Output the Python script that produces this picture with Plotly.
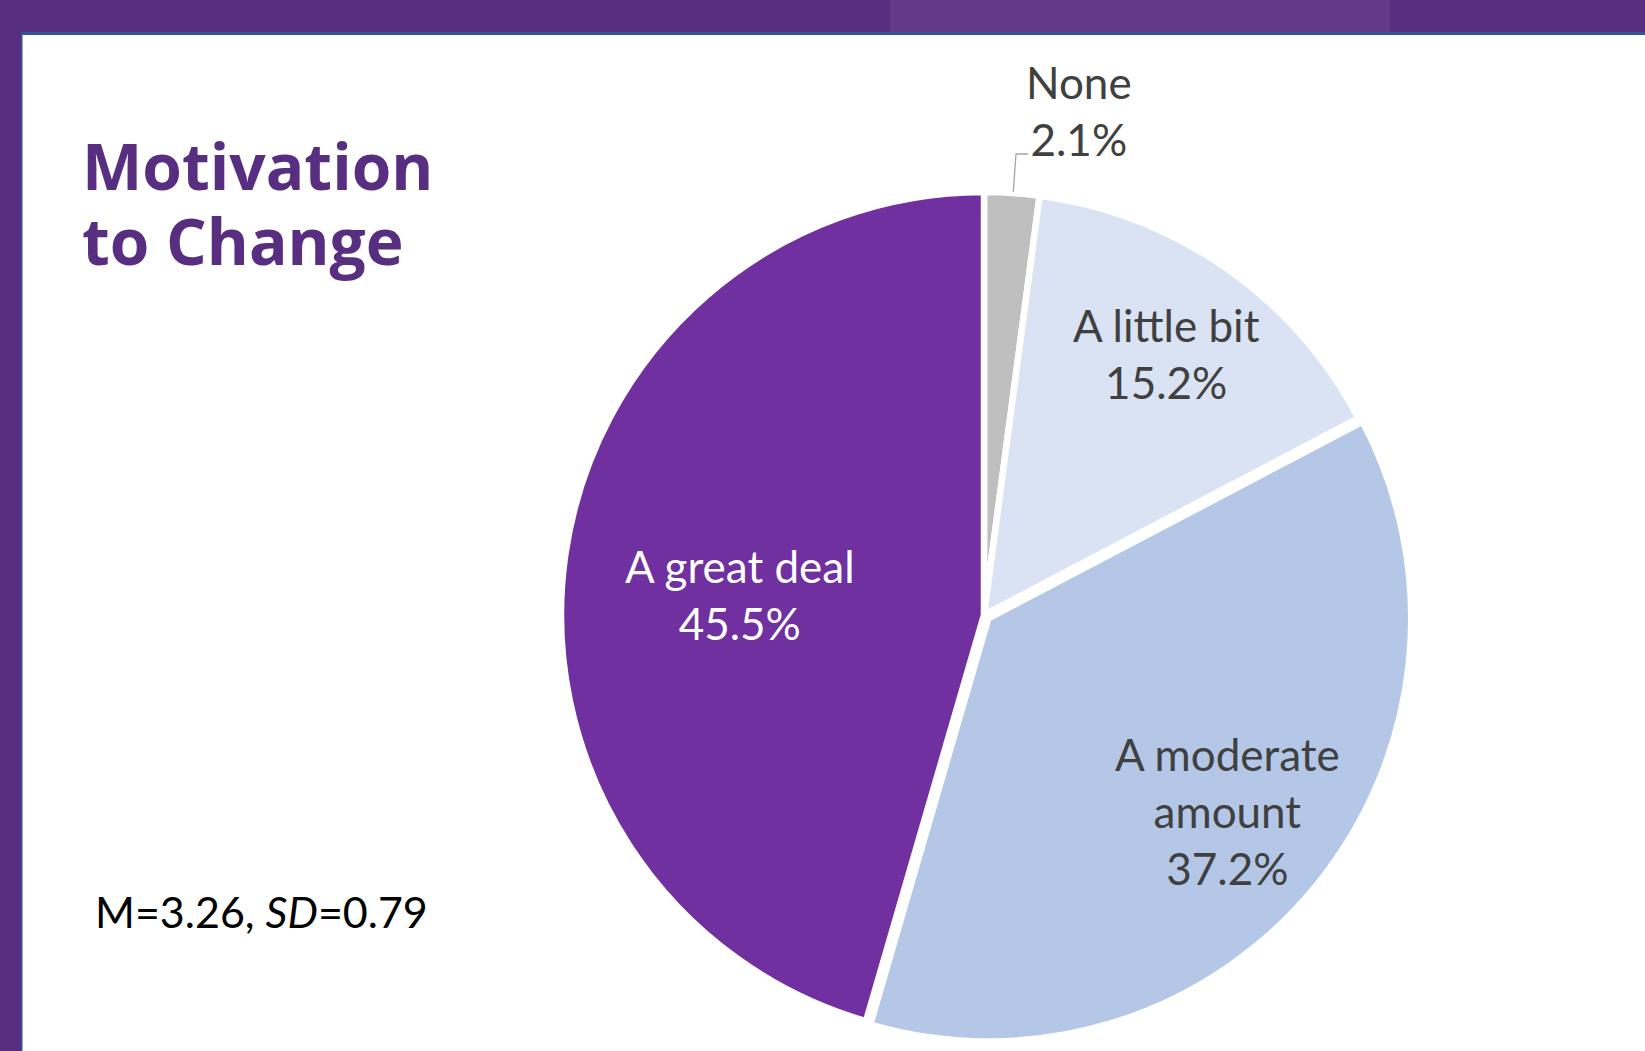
import plotly.graph_objects as go
import math

W, H = 1645, 1051

categories = ["None", "A little bit", "A moderate amount", "A great deal"]
display_labels = ["None", "A little bit", "A moderate<br>amount", "A great deal"]
values = [2.1, 15.2, 37.2, 45.5]
colors = ["#BFBFBF", "#DAE3F3", "#B4C7E7", "#7030A0"]
label_colors = ["#404040", "#404040", "#404040", "#FFFFFF"]

title_lines = ["Motivation", "to Change"]
stats_text = "M=3.26, <i>SD</i>=0.79"

# pie geometry (pixels)
cx, cy, R = 984.0, 615.0, 423.0
pulls = [0, 0, 0.013, 0]
maxpull = max(pulls)
half = R * (1 + maxpull)
# label centres in pixels (None sits outside with a leader line)
label_pos = [(1079, 110), (1166, 353), (1227, 811), (740, 594)]

def px(x):
    return x / W

def py(y):
    return 1 - y / H

fig = go.Figure()
fig.add_trace(go.Pie(
    labels=categories,
    values=values,
    sort=False,
    direction="clockwise",
    rotation=0,
    pull=pulls,
    marker=dict(colors=colors, line=dict(color="white", width=6.5)),
    textinfo="none",
    hoverinfo="label+percent",
    showlegend=False,
    domain=dict(x=[px(cx - half), px(cx + half)], y=[py(cy + half), py(cy - half)]),
))

annotations = []
for i, v in enumerate(values):
    tx, ty = label_pos[i]
    annotations.append(dict(
        x=px(tx), y=py(ty), xref="paper", yref="paper",
        text=f"{display_labels[i]}<br>{v:.1f}%",
        showarrow=False, xanchor="center", yanchor="middle",
        font=dict(family="Lato", size=44, color=label_colors[i]),
    ))

# title
annotations.append(dict(x=px(80), y=py(166), xref="paper", yref="paper",
                        text=f"<b>{title_lines[0]}</b>", showarrow=False,
                        xanchor="left", yanchor="middle",
                        font=dict(family="Open Sans", size=64, color="#572E80")))
annotations.append(dict(x=px(80), y=py(241), xref="paper", yref="paper",
                        text=f"<b>{title_lines[1]}</b>", showarrow=False,
                        xanchor="left", yanchor="middle",
                        font=dict(family="Open Sans", size=64, color="#572E80")))
annotations.append(dict(x=px(93), y=py(911), xref="paper", yref="paper",
                        text=stats_text, showarrow=False,
                        xanchor="left", yanchor="middle",
                        font=dict(family="Lato", size=43, color="#000000")))

shapes = [
    # top band
    dict(type="rect", xref="paper", yref="paper", x0=0, x1=1, y0=py(32), y1=1,
         fillcolor="#572E80", line=dict(width=0), layer="above"),
    dict(type="rect", xref="paper", yref="paper", x0=px(890), x1=px(1390), y0=py(32), y1=1,
         fillcolor="#623A86", line=dict(width=0), layer="above"),
    # blue rule under top band
    dict(type="rect", xref="paper", yref="paper", x0=px(21), x1=1, y0=py(35), y1=py(32),
         fillcolor="#2F5597", line=dict(width=0), layer="above"),
    # left band
    dict(type="rect", xref="paper", yref="paper", x0=0, x1=px(21), y0=0, y1=py(32),
         fillcolor="#572E80", line=dict(width=0), layer="above"),
    dict(type="rect", xref="paper", yref="paper", x0=px(21), x1=px(22.5), y0=0, y1=py(32),
         fillcolor="#2F5597", line=dict(width=0), layer="above"),
    # leader line for "None"
    dict(type="path", xref="paper", yref="paper",
         path=f"M {px(1013.3)},{py(192)} L {px(1016)},{py(154)} L {px(1028)},{py(154)}",
         line=dict(color="#A6A6A6", width=1.3)),
]

fig.update_layout(
    width=W, height=H,
    margin=dict(l=0, r=0, t=0, b=0),
    paper_bgcolor="white", plot_bgcolor="white",
    annotations=annotations,
    shapes=shapes,
)

fig.write_html("out.html")
